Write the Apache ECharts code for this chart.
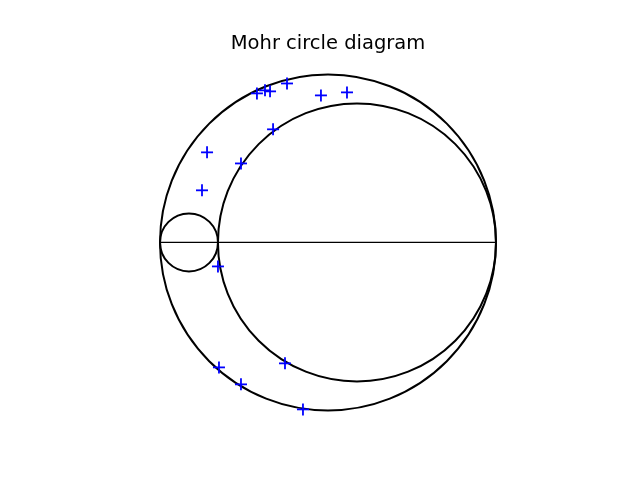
<!DOCTYPE html>
<html>
<head>
<meta charset="utf-8">
<script src="https://cdn.jsdelivr.net/npm/echarts@6/dist/echarts.min.js"></script>
<style>html,body{margin:0;padding:0;background:#fff}#c{width:640px;height:480px}</style>
</head>
<body>
<div id="c"></div>
<script>
// Principal stresses (arbitrary units)
var sigma1 = 20.0;
var sigma2 = 3.45;
var sigma3 = 0.0;
var titleText = 'Mohr circle diagram';
// Measured points (normal stress, shear stress)
var pointSigma = [5.77, 6.25, 6.55, 7.56, 9.58, 11.13, 6.73, 2.80, 4.82, 2.50, 3.45, 3.51, 4.82, 7.44, 8.51];
var pointTau   = [8.87, 9.05, 8.99, 9.46, 8.75, 8.93, 6.73, 5.36, 4.70, 3.10, -1.43, -7.44, -8.45, -7.20, -9.94];

var circles = [
  [(sigma1 + sigma3) / 2, (sigma1 - sigma3) / 2],
  [(sigma1 + sigma2) / 2, (sigma1 - sigma2) / 2],
  [(sigma2 + sigma3) / 2, (sigma2 - sigma3) / 2]
];
var pts = pointSigma.map(function (s, i) { return [s, pointTau[i]]; });

var R = (sigma1 - sigma3) / 2;
var cx = (sigma1 + sigma3) / 2;
var yHalf = R * 1.1;
var gridW = 496, gridH = 369.6;
var xHalf = yHalf * gridW / gridH;

var chart = echarts.init(document.getElementById('c'));
chart.setOption({
  animation: false,
  graphic: [{
    type: 'text', x: 328, y: 43.5,
    style: { text: titleText, fontSize: 19.5, fontFamily: 'DejaVu Sans', fill: '#000',
             textAlign: 'center', textVerticalAlign: 'middle' }
  }],
  grid: { left: 80, top: 57.6, width: gridW, height: gridH },
  xAxis: { type: 'value', min: cx - xHalf, max: cx + xHalf, show: false },
  yAxis: { type: 'value', min: -yHalf, max: yHalf, show: false },
  series: [
    {
      type: 'line', data: [[sigma3, 0], [sigma1, 0]], symbol: 'none',
      lineStyle: { color: '#000', width: 1.1 }, silent: true
    },
    {
      type: 'custom', data: circles, silent: true,
      renderItem: function (params, api) {
        var c = api.coord([api.value(0), 0]);
        var r = api.size([api.value(1), 0])[0];
        return { type: 'circle', shape: { cx: c[0], cy: c[1], r: r },
          style: { fill: 'none', stroke: '#000', lineWidth: 2 } };
      }
    },
    {
      type: 'custom', data: pts, silent: true, z: 5,
      renderItem: function (params, api) {
        var c = api.coord([api.value(0), api.value(1)]);
        var h = 6;
        var st = { stroke: '#0000ff', lineWidth: 1.8 };
        return { type: 'group', children: [
          { type: 'line', shape: { x1: c[0] - h, y1: c[1], x2: c[0] + h, y2: c[1] }, style: st },
          { type: 'line', shape: { x1: c[0], y1: c[1] - h, x2: c[0], y2: c[1] + h }, style: st }
        ] };
      }
    }
  ]
});
</script>
</body>
</html>
